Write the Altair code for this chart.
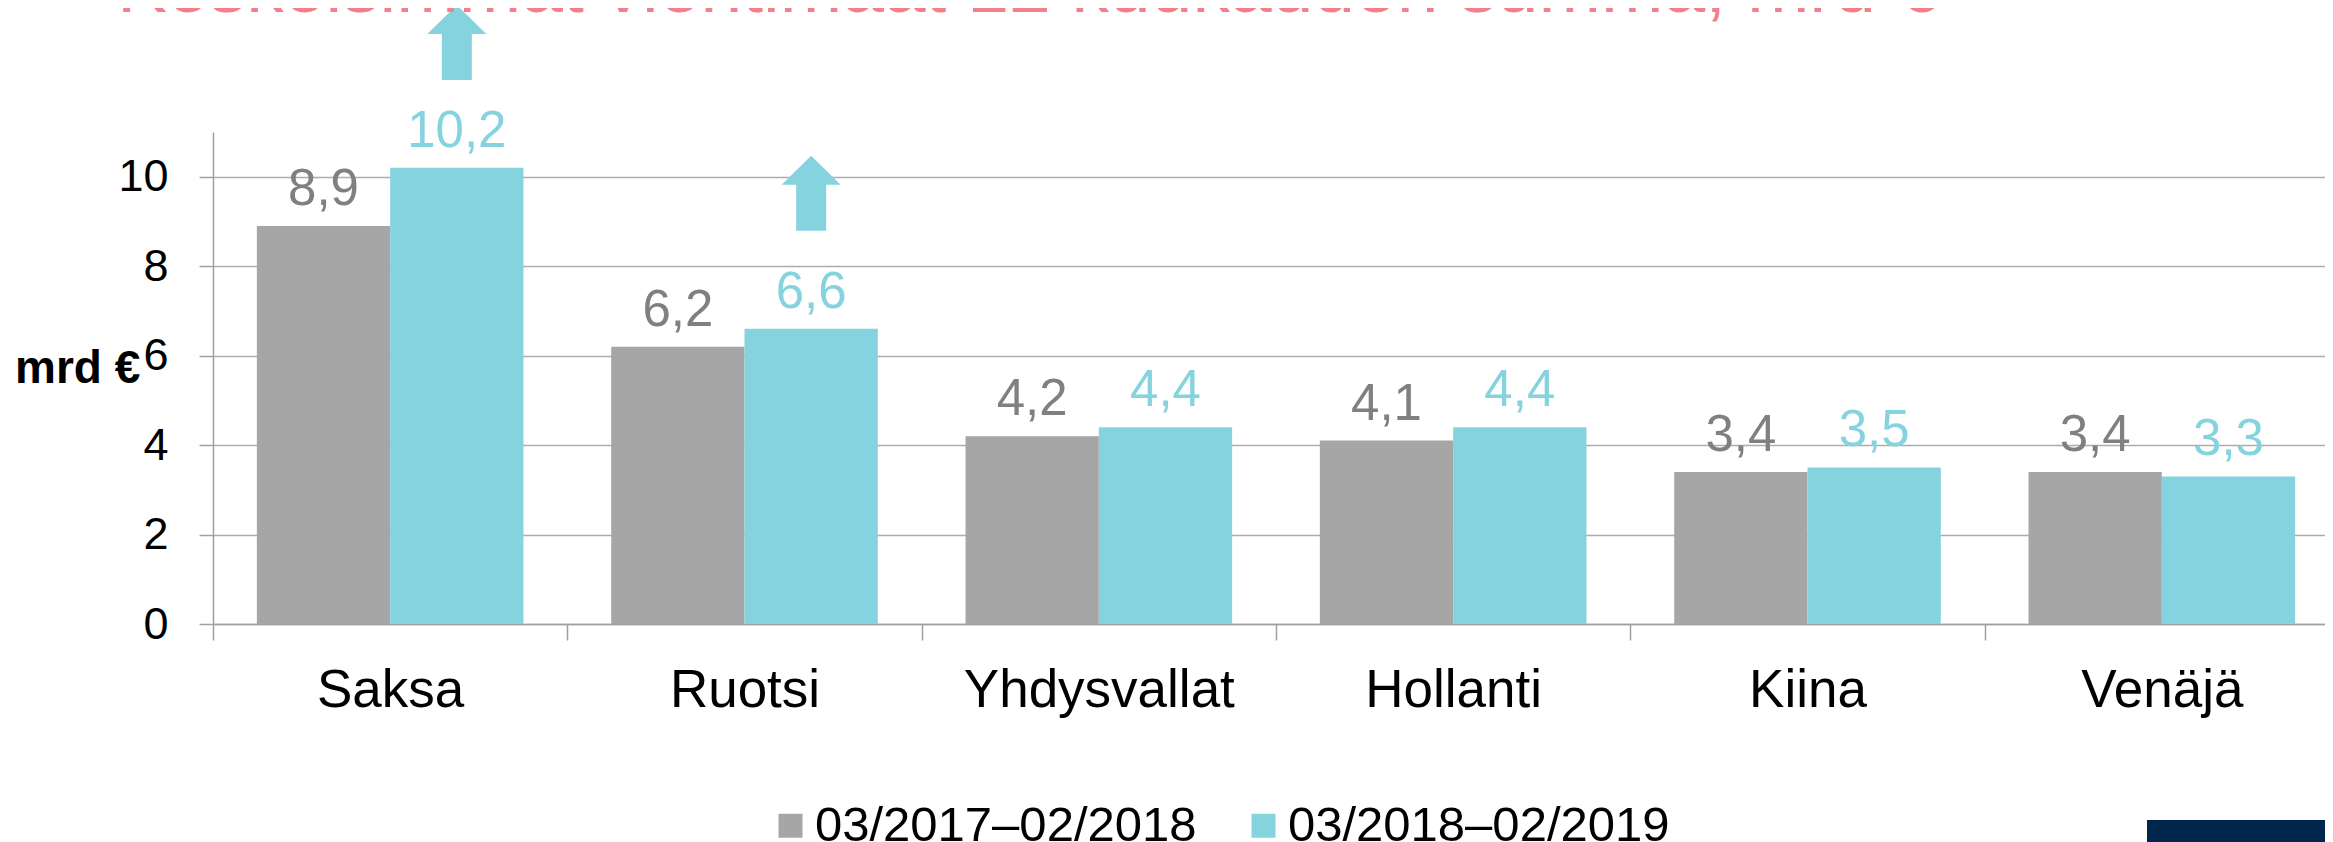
import altair as alt
import pandas as pd

FONT = "Liberation Sans"

countries = ["Saksa", "Ruotsi", "Yhdysvallat", "Hollanti", "Kiina", "Venäjä"]
series_names = ["03/2017–02/2018", "03/2018–02/2019"]
values_prev = [8.9, 6.2, 4.2, 4.1, 3.4, 3.4]
values_curr = [10.2, 6.6, 4.4, 4.4, 3.5, 3.3]
arrow_countries = ["Saksa", "Ruotsi"]
arrow_levels = [13.0, 9.63]
y_ticks = [0, 2, 4, 6, 8, 10]
title_text = "Keskeisimmät vientimaat 12 kuukauden summa, mrd €"

GREY = "#A6A6A6"
CYAN = "#86D3E0"
GREY_TXT = "#808080"
AXIS_C = "#A0A0A0"
GRID_C = "#ADADAD"

rows = []
for c, a, b in zip(countries, values_prev, values_curr):
    rows.append({"country": c, "series": series_names[0], "value": a,
                 "label": f"{a:.1f}".replace(".", ",")})
    rows.append({"country": c, "series": series_names[1], "value": b,
                 "label": f"{b:.1f}".replace(".", ",")})
df = pd.DataFrame(rows)

arrow_df = pd.DataFrame({"country": arrow_countries,
                         "series": [series_names[1]] * len(arrow_countries),
                         "value": arrow_levels})

x_enc = alt.X("country:N", sort=countries, title=None,
              scale=alt.Scale(paddingInner=0, paddingOuter=0),
              axis=alt.Axis(labelAngle=0, labelFontSize=53, labelColor="black",
                            labelFont=FONT, labelPadding=24, tickSize=16,
                            tickBand="extent", tickColor=AXIS_C, tickWidth=1.5,
                            domainColor=AXIS_C, domainWidth=1.5, labelLimit=0,
                            grid=False))
y_enc = alt.Y("value:Q", title="mrd €",
              scale=alt.Scale(domain=[0, 11], nice=False),
              axis=alt.Axis(values=y_ticks, titleAngle=0, titleAlign="left",
                            titleBaseline="alphabetic", titleX=-198.5, titleY=250,
                            titleFontSize=46, titleFontWeight="bold",
                            titleColor="black", titleFont=FONT,
                            labelFontSize=45, labelColor="black", labelFont=FONT,
                            labelPadding=31, tickSize=14, tickColor=AXIS_C,
                            tickWidth=1.5, grid=True, gridColor=GRID_C,
                            gridWidth=1.5, domainColor=AXIS_C, domainWidth=1.5))
xo_enc = alt.XOffset("series:N", sort=series_names,
                     scale=alt.Scale(domain=series_names, paddingInner=0, paddingOuter=0.329))

base = alt.Chart(df)

bars = base.mark_bar().encode(
    x=x_enc, xOffset=xo_enc, y=y_enc,
    color=alt.Color("series:N", sort=series_names,
                    scale=alt.Scale(domain=series_names, range=[GREY, CYAN]),
                    legend=alt.Legend(title=None, orient="none", direction="horizontal",
                                      legendX=553, legendY=669, symbolType="square",
                                      symbolSize=576, symbolStrokeWidth=0,
                                      labelFontSize=49, labelFont=FONT,
                                      labelColor="black", labelOffset=0,
                                      columnPadding=42, labelLimit=0, padding=0)),
)

labels = base.mark_text(baseline="alphabetic", dy=-21, fontSize=51, font=FONT).encode(
    x=x_enc, xOffset=xo_enc, y=y_enc, text="label:N",
    color=alt.Color("series:N", sort=series_names,
                    scale=alt.Scale(domain=series_names, range=[GREY_TXT, CYAN]),
                    legend=None),
)

ARROW = "M0,-1L0.787,-0.227L0.4,-0.227L0.4,1L-0.4,1L-0.4,-0.227L-0.787,-0.227Z"
arrows = alt.Chart(arrow_df).mark_point(shape=ARROW, size=5625, filled=True, opacity=1,
                                        color=CYAN, strokeWidth=0).encode(
    x=x_enc, xOffset=xo_enc, y=y_enc)

title_layer = alt.Chart(pd.DataFrame({"t": [title_text]})).mark_text(
    align="left", baseline="alphabetic", fontSize=75, color="#F47F8B", font=FONT
).encode(text="t:N", x=alt.value(-96), y=alt.value(-120))

band = alt.Chart(pd.DataFrame({"k": [0]})).mark_rect(color="#00264D").encode(
    x=alt.value(1934), x2=alt.value(2130), y=alt.value(688), y2=alt.value(712))

chart = alt.layer(bars, labels, arrows, title_layer, band).resolve_scale(
    color="independent"
).properties(
    width=2126, height=492,
    autosize=alt.AutoSizeParams(type="none"),
    padding={"left": 205, "top": 124, "right": -14, "bottom": 218},
).configure(font=FONT).configure_view(stroke=None)

chart.save("out.html", embed_options={"renderer": "svg", "actions": False})
